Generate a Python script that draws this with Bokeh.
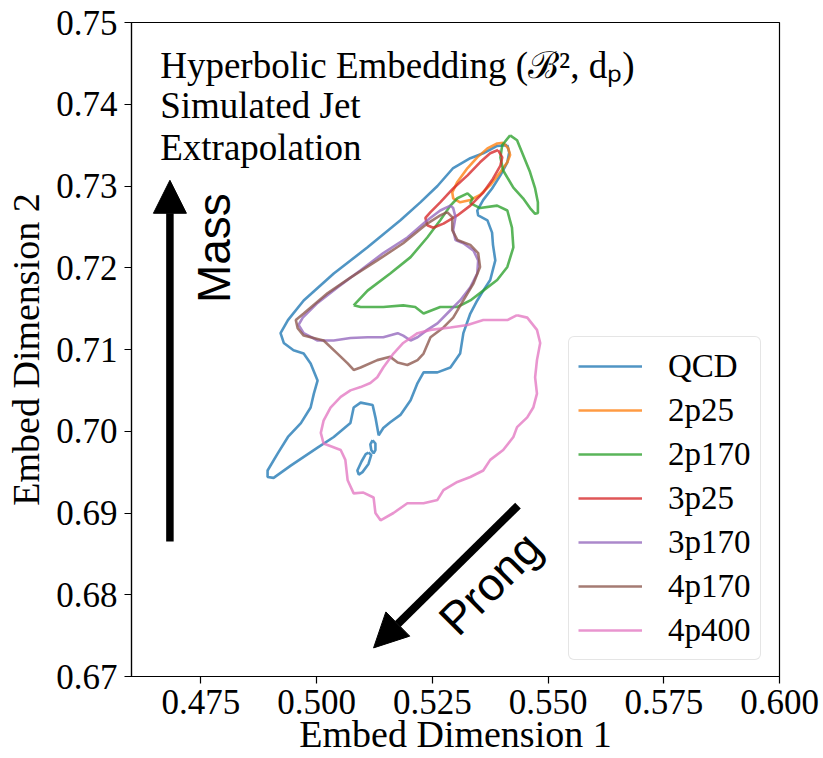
from bokeh.plotting import figure
from bokeh.models import (Arrow, NormalHead, Label, Legend, LegendItem, FixedTicker,
                          PrintfTickFormatter, Range1d)
from bokeh.embed import file_html
from bokeh.resources import INLINE
import math

# ---------------- data (contour outlines, data units) ----------------
qcd_x = [0.5412, 0.5390, 0.5360, 0.5332, 0.5295, 0.5261, 0.5224, 0.5181, 0.5110, 0.5037,
         0.4972, 0.4938, 0.4922, 0.4929, 0.4950, 0.4972, 0.4987, 0.5002, 0.4994, 0.4987,
         0.4966, 0.4938, 0.4916, 0.4894, 0.4894, 0.4907, 0.4944, 0.5002, 0.5037, 0.5073,
         0.5080, 0.5095, 0.5121, 0.5127, 0.5134, 0.5144, 0.5159, 0.5181, 0.5203, 0.5218,
         0.5231, 0.5261, 0.5289, 0.5310, 0.5317, 0.5332, 0.5347, 0.5360, 0.5375, 0.5386,
         0.5381, 0.5379, 0.5369, 0.5349, 0.5347, 0.5360, 0.5379, 0.5397, 0.5412, 0.5416]
qcd_y = [0.7350, 0.7349, 0.7340, 0.7334, 0.7322, 0.7300, 0.7280, 0.7258, 0.7225, 0.7193,
         0.7160, 0.7136, 0.7120, 0.7108, 0.7099, 0.7095, 0.7083, 0.7062, 0.7046, 0.7029,
         0.7010, 0.6993, 0.6973, 0.6952, 0.6944, 0.6943, 0.6958, 0.6980, 0.6993, 0.7010,
         0.7029, 0.7035, 0.7032, 0.7017, 0.6995, 0.7004, 0.7011, 0.7020, 0.7038, 0.7059,
         0.7072, 0.7072, 0.7078, 0.7095, 0.7120, 0.7144, 0.7160, 0.7172, 0.7185, 0.7209,
         0.7228, 0.7243, 0.7258, 0.7264, 0.7270, 0.7283, 0.7297, 0.7313, 0.7329, 0.7341]
qcd_isl1_x = [0.5121, 0.5127, 0.5127, 0.5123, 0.5118, 0.5116]
qcd_isl1_y = [0.6989, 0.6985, 0.6977, 0.6973, 0.6977, 0.6984]
qcd_isl2_x = [0.5112, 0.5118, 0.5112, 0.5099, 0.5091, 0.5088, 0.5097, 0.5106]
qcd_isl2_y = [0.6974, 0.6971, 0.6960, 0.6950, 0.6947, 0.6952, 0.6963, 0.6972]

p2p25_x = [0.5403, 0.5414, 0.5418, 0.5412, 0.5397, 0.5375, 0.5353, 0.5332, 0.5310, 0.5295,
           0.5293, 0.5304, 0.5326, 0.5347, 0.5369, 0.5390]
p2p25_y = [0.7353, 0.7346, 0.7338, 0.7329, 0.7317, 0.7301, 0.7289, 0.7283, 0.7280, 0.7285,
           0.7292, 0.7305, 0.7322, 0.7335, 0.7346, 0.7352]

p2p170_x = [0.5080, 0.5110, 0.5159, 0.5203, 0.5239, 0.5267, 0.5289, 0.5304, 0.5326, 0.5337,
            0.5332, 0.5353, 0.5390, 0.5412, 0.5422, 0.5425, 0.5412, 0.5390, 0.5360, 0.5332,
            0.5304, 0.5267, 0.5231, 0.5213, 0.5187, 0.5144, 0.5095]
p2p170_y = [0.7154, 0.7172, 0.7193, 0.7213, 0.7237, 0.7258, 0.7276, 0.7285, 0.7291, 0.7285,
            0.7279, 0.7273, 0.7276, 0.7270, 0.7249, 0.7225, 0.7201, 0.7185, 0.7172, 0.7160,
            0.7152, 0.7152, 0.7144, 0.7152, 0.7154, 0.7152, 0.7152]
p2p170_spike_x = [0.5418, 0.5433, 0.5446, 0.5461, 0.5472, 0.5478, 0.5478, 0.5472, 0.5461,
                  0.5446, 0.5425, 0.5403, 0.5397, 0.5401]
p2p170_spike_y = [0.7362, 0.7356, 0.7338, 0.7317, 0.7297, 0.7280, 0.7267, 0.7266, 0.7273,
                  0.7285, 0.7298, 0.7319, 0.7335, 0.7350]

p3p25_x = [0.5392, 0.5401, 0.5397, 0.5381, 0.5360, 0.5332, 0.5304, 0.5274, 0.5252, 0.5239,
           0.5235, 0.5246, 0.5267, 0.5295, 0.5326, 0.5353, 0.5375]
p3p25_y = [0.7344, 0.7335, 0.7325, 0.7309, 0.7292, 0.7276, 0.7264, 0.7254, 0.7249, 0.7252,
           0.7261, 0.7268, 0.7280, 0.7297, 0.7313, 0.7329, 0.7340]

p3p170_x = [0.5289, 0.5295, 0.5300, 0.5295, 0.5300, 0.5317, 0.5339, 0.5349, 0.5347, 0.5332,
            0.5310, 0.5282, 0.5261, 0.5239, 0.5218, 0.5203, 0.5187, 0.5175, 0.5144, 0.5110,
            0.5073, 0.5037, 0.5002, 0.4972, 0.4961, 0.4970, 0.5002, 0.5045, 0.5095, 0.5144,
            0.5196, 0.5239, 0.5267]
p3p170_y = [0.7276, 0.7273, 0.7262, 0.7246, 0.7234, 0.7230, 0.7221, 0.7209, 0.7193, 0.7176,
            0.7160, 0.7144, 0.7132, 0.7124, 0.7115, 0.7111, 0.7117, 0.7120, 0.7115, 0.7115,
            0.7114, 0.7111, 0.7111, 0.7120, 0.7130, 0.7139, 0.7157, 0.7176, 0.7197, 0.7218,
            0.7237, 0.7258, 0.7270]

p4p170_x = [0.5282, 0.5293, 0.5293, 0.5304, 0.5332, 0.5349, 0.5353, 0.5339, 0.5317, 0.5295,
            0.5274, 0.5246, 0.5231, 0.5218, 0.5196, 0.5175, 0.5159, 0.5131, 0.5095, 0.5080,
            0.5067, 0.5045, 0.5015, 0.4972, 0.4959, 0.4955, 0.4972, 0.5024, 0.5073, 0.5131,
            0.5187, 0.5239, 0.5267]
p4p170_y = [0.7268, 0.7262, 0.7246, 0.7234, 0.7228, 0.7218, 0.7201, 0.7181, 0.7160, 0.7139,
            0.7127, 0.7115, 0.7095, 0.7087, 0.7081, 0.7084, 0.7091, 0.7087, 0.7078, 0.7075,
            0.7083, 0.7095, 0.7111, 0.7117, 0.7126, 0.7136, 0.7144, 0.7169, 0.7188, 0.7209,
            0.7230, 0.7254, 0.7264]

p4p400_x = [0.5433, 0.5455, 0.5476, 0.5483, 0.5476, 0.5472, 0.5476, 0.5468, 0.5455, 0.5433,
            0.5425, 0.5403, 0.5375, 0.5360, 0.5332, 0.5304, 0.5274, 0.5261, 0.5231, 0.5196,
            0.5166, 0.5138, 0.5127, 0.5123, 0.5101, 0.5080, 0.5067, 0.5062, 0.5052, 0.5015,
            0.5009, 0.5015, 0.5030, 0.5052, 0.5073, 0.5095, 0.5116, 0.5131, 0.5144, 0.5166,
            0.5187, 0.5218, 0.5246, 0.5289, 0.5326, 0.5360, 0.5390, 0.5412]
p4p400_y = [0.7142, 0.7139, 0.7124, 0.7108, 0.7087, 0.7066, 0.7046, 0.7029, 0.7017, 0.7005,
            0.6993, 0.6977, 0.6965, 0.6952, 0.6944, 0.6938, 0.6928, 0.6916, 0.6912, 0.6912,
            0.6900, 0.6891, 0.6900, 0.6919, 0.6925, 0.6924, 0.6940, 0.6965, 0.6977, 0.6985,
            0.6998, 0.7013, 0.7029, 0.7042, 0.7050, 0.7054, 0.7059, 0.7066, 0.7078, 0.7095,
            0.7108, 0.7120, 0.7124, 0.7127, 0.7130, 0.7136, 0.7136, 0.7136]

series_names = ["QCD", "2p25", "2p170", "3p25", "3p170", "4p170", "4p400"]
series_colors = ["#1f77b4", "#ff7f0e", "#2ca02c", "#d62728", "#9467bd", "#8c564b", "#e377c2"]
series_parts = [
    [(qcd_x, qcd_y), (qcd_isl1_x, qcd_isl1_y), (qcd_isl2_x, qcd_isl2_y)],
    [(p2p25_x, p2p25_y)],
    [(p2p170_x, p2p170_y), (p2p170_spike_x, p2p170_spike_y)],
    [(p3p25_x, p3p25_y)],
    [(p3p170_x, p3p170_y)],
    [(p4p170_x, p4p170_y)],
    [(p4p400_x, p4p400_y)],
]

x_ticks = [0.475, 0.500, 0.525, 0.550, 0.575, 0.600]
y_ticks = [0.67, 0.68, 0.69, 0.70, 0.71, 0.72, 0.73, 0.74, 0.75]

info_lines = ["Hyperbolic Embedding (\u212C\u00B2, d\u209A)", "Simulated Jet", "Extrapolation"]
info_x = 0.4662
info_y = [0.7448, 0.7398, 0.7347]

mass_arrow = dict(x0=0.4683, y0=0.6865, x1=0.4683, y1=0.7307)
prong_arrow = dict(x0=0.5435, y0=0.6909, x1=0.5123, y1=0.6735)

SERIF = "Liberation Serif"
SANS = "Liberation Sans"

p = figure(frame_width=648, frame_height=654,
           x_range=Range1d(0.46, 0.60), y_range=Range1d(0.67, 0.75),
           output_backend="svg", toolbar_location=None,
           min_border_left=131, min_border_right=44, min_border_top=22, min_border_bottom=82)
p.xgrid.visible = False
p.ygrid.visible = False
p.outline_line_color = "black"
p.outline_line_width = 1.2
p.background_fill_color = "white"
p.border_fill_color = "white"

for ax, ticks, fmt in ((p.xaxis[0], x_ticks, "%.3f"), (p.yaxis[0], y_ticks, "%.2f")):
    ax.ticker = FixedTicker(ticks=ticks)
    ax.formatter = PrintfTickFormatter(format=fmt)
    ax.major_label_text_font = SERIF
    ax.major_label_text_font_size = "35px"
    ax.major_label_text_color = "black"
    ax.axis_label_text_font = SERIF
    ax.axis_label_text_font_size = "38px"
    ax.axis_label_text_font_style = "normal"
    ax.axis_label_text_color = "black"
    ax.minor_tick_line_color = None
    ax.major_tick_in = 0
    ax.major_tick_out = 7
    ax.major_tick_line_width = 1.2
    ax.axis_line_width = 1.2

p.xaxis.axis_label = "Embed Dimension 1"
p.yaxis.axis_label = "Embed Dimension 2"
p.xaxis.major_label_standoff = 6
p.yaxis.major_label_standoff = 7
p.xaxis.axis_label_standoff = -4
p.yaxis.axis_label_standoff = 6

items = []
for name, color, parts in zip(series_names, series_colors, series_parts):
    xs = [list(px) + [px[0]] for px, py in parts]
    ys = [list(py) + [py[0]] for px, py in parts]
    r = p.multi_line(xs=xs, ys=ys, line_color=color, line_width=2.6, line_alpha=0.78)
    items.append(LegendItem(label=name, renderers=[r]))

legend = Legend(items=items, location=(437, 16),
                label_text_font=SERIF, label_text_font_size="33px", label_text_color="black",
                glyph_width=64, glyph_height=40, label_height=40,
                label_standoff=26, spacing=4, padding=9, margin=0,
                border_line_color="#cccccc", border_line_width=1.2,
                background_fill_color="white", background_fill_alpha=0.85)
if "border_radius" in Legend.properties():
    legend.border_radius = 6
p.add_layout(legend)

for txt, yy in zip(info_lines, info_y):
    p.add_layout(Label(x=info_x, y=yy, text=txt, text_font=SERIF, text_font_size="37px",
                       text_color="black", text_baseline="alphabetic", text_align="left"))

p.add_layout(Arrow(end=NormalHead(size=33, fill_color="black", line_color="black"),
                   x_start=mass_arrow["x0"], y_start=mass_arrow["y0"],
                   x_end=mass_arrow["x1"], y_end=mass_arrow["y1"],
                   line_color="black", line_width=7.5))
p.add_layout(Arrow(end=NormalHead(size=34, fill_color="black", line_color="black"),
                   x_start=prong_arrow["x0"], y_start=prong_arrow["y0"],
                   x_end=prong_arrow["x1"], y_end=prong_arrow["y1"],
                   line_color="black", line_width=8))

p.add_layout(Label(x=0.4778, y=0.7224, text="Mass", angle=math.pi / 2,
                   text_font=SANS, text_font_size="46px", text_color="black",
                   text_align="center", text_baseline="middle"))
p.add_layout(Label(x=0.5375, y=0.6814, text="Prong", angle=math.pi / 4,
                   text_font=SANS, text_font_size="46px", text_color="black",
                   text_align="center", text_baseline="middle"))

open("out.html", "w").write(file_html(p, INLINE))
